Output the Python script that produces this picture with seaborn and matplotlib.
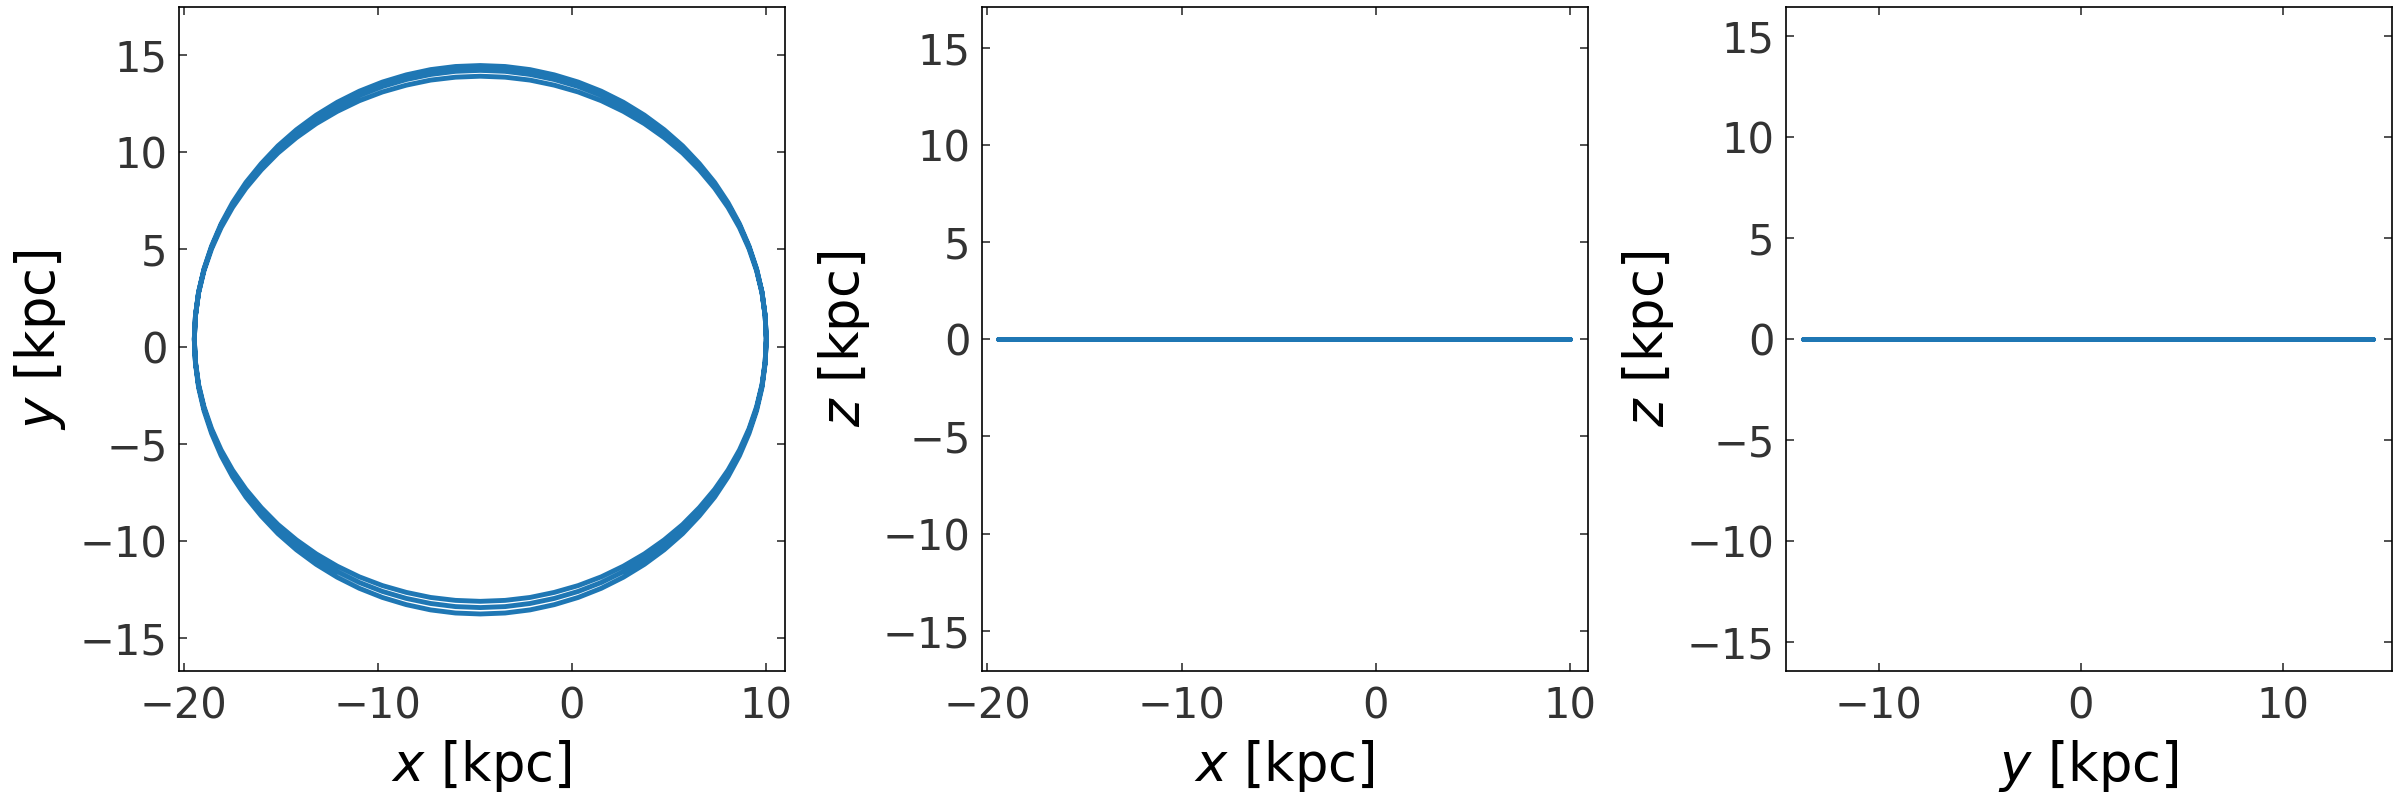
import matplotlib
matplotlib.use("Agg")
import pandas as pd
import seaborn as sns
import matplotlib.pyplot as plt

# orbit, points every 5 degrees round each of the 3 loops
x_loop = [10.01, 9.95, 9.79, 9.51, 9.12, 8.63, 8.04, 7.35, 6.56, 5.70,
          4.75, 3.73, 2.65, 1.51, 0.32, -0.91, -2.16, -3.44, -4.72,
          -6.00, -7.28, -8.53, -9.76, -10.95, -12.09, -13.17, -14.19, -15.14,
          -16.00, -16.79, -17.48, -18.07, -18.56, -18.95, -19.23, -19.39, -19.45,
          -19.39, -19.23, -18.95, -18.56, -18.07, -17.48, -16.79, -16.00, -15.14,
          -14.19, -13.17, -12.09, -10.95, -9.76, -8.53, -7.28, -6.00, -4.72,
          -3.44, -2.16, -0.91, 0.32, 1.51, 2.65, 3.73, 4.75, 5.70,
          6.56, 7.35, 8.04, 8.63, 9.12, 9.51, 9.79, 9.95]
y_loop1 = [0.35, 1.58, 2.80, 4.00, 5.17, 6.31, 7.40, 8.44, 9.41, 10.32,
           11.15, 11.90, 12.56, 13.13, 13.60, 13.97, 14.24, 14.40, 14.45,
           14.40, 14.24, 13.97, 13.60, 13.13, 12.56, 11.90, 11.15, 10.32,
           9.41, 8.44, 7.40, 6.31, 5.17, 4.00, 2.80, 1.58, 0.35,
           -0.88, -2.10, -3.30, -4.47, -5.61, -6.70, -7.74, -8.71, -9.62,
           -10.45, -11.20, -11.86, -12.43, -12.90, -13.27, -13.54, -13.70, -13.75,
           -13.70, -13.54, -13.27, -12.90, -12.43, -11.86, -11.20, -10.45, -9.62,
           -8.71, -7.74, -6.70, -5.61, -4.47, -3.30, -2.10, -0.88]
y_loop2 = [0.39, 1.59, 2.79, 3.96, 5.11, 6.23, 7.30, 8.31, 9.27, 10.16,
           10.97, 11.70, 12.35, 12.91, 13.37, 13.73, 13.99, 14.15, 14.20,
           14.15, 13.99, 13.73, 13.37, 12.91, 12.35, 11.70, 10.97, 10.16,
           9.27, 8.31, 7.30, 6.23, 5.11, 3.96, 2.79, 1.59, 0.39,
           -0.81, -2.01, -3.18, -4.33, -5.45, -6.52, -7.53, -8.49, -9.38,
           -10.19, -10.92, -11.57, -12.13, -12.59, -12.95, -13.21, -13.37, -13.42,
           -13.37, -13.21, -12.95, -12.59, -12.13, -11.57, -10.92, -10.19, -9.38,
           -8.49, -7.53, -6.52, -5.45, -4.33, -3.18, -2.01, -0.81]
y_loop3 = [0.40, 1.58, 2.74, 3.89, 5.02, 6.11, 7.15, 8.14, 9.08, 9.95,
           10.74, 11.46, 12.09, 12.64, 13.09, 13.44, 13.70, 13.85, 13.90,
           13.85, 13.70, 13.44, 13.09, 12.64, 12.09, 11.46, 10.74, 9.95,
           9.08, 8.14, 7.15, 6.11, 5.02, 3.89, 2.74, 1.58, 0.40,
           -0.78, -1.94, -3.09, -4.22, -5.31, -6.35, -7.34, -8.28, -9.15,
           -9.94, -10.66, -11.29, -11.84, -12.29, -12.64, -12.90, -13.05, -13.10,
           -13.05, -12.90, -12.64, -12.29, -11.84, -11.29, -10.66, -9.94, -9.15,
           -8.28, -7.34, -6.35, -5.31, -4.22, -3.09, -1.94, -0.78]
z_plane = 0.0  # orbit stays in the plane

x_ticks = [-20, -10, 0, 10]
y_ticks = [-10, 0, 10]
z_ticks = [-15, -10, -5, 0, 5, 10, 15]

orbit = pd.DataFrame({
    "x": x_loop * 3 + x_loop[:1],
    "y": y_loop1 + y_loop2 + y_loop3 + y_loop3[:1],
})
orbit["z"] = z_plane

sns.set_style("ticks")
plt.rcParams["font.family"] = ["DejaVu Sans"]
plt.rcParams["axes.linewidth"] = 1.2
plt.rcParams["axes.edgecolor"] = "black"

fig = plt.figure(figsize=(24, 8), dpi=100)

# (horizontal, vertical, axes rect, xlim, ylim, xticks, yticks)
panels = [
    ("x", "y", [0.0744, 0.1608, 0.2525, 0.83], (-20.26, 10.95), (-16.70, 17.44), x_ticks, z_ticks),
    ("x", "z", [0.4090, 0.1608, 0.2525, 0.83], (-20.29, 10.90), (-17.10, 17.10), x_ticks, z_ticks),
    ("y", "z", [0.7440, 0.1608, 0.2525, 0.83], (-14.62, 15.38), (-16.44, 16.44), y_ticks, z_ticks),
]

for h, v, rect, xl, yl, xt, yt in panels:
    ax = fig.add_axes(rect)
    sns.lineplot(data=orbit, x=h, y=v, sort=False, estimator=None,
                 color="#1f77b4", linewidth=3.5, ax=ax)
    ax.set_xlim(*xl)
    ax.set_ylim(*yl)
    ax.set_xticks(xt)
    ax.set_yticks(yt)
    ax.tick_params(direction="in", top=True, right=True, length=6, width=1.1,
                   labelsize=30, labelcolor="#333333", color="#222222")
    ax.tick_params(axis="x", pad=10)
    ax.tick_params(axis="y", pad=8)
    ax.set_xlabel(f"${h}$ [kpc]", fontsize=38, color="black", labelpad=8)
    ax.set_ylabel(f"${v}$ [kpc]", fontsize=38, color="black", labelpad=8)
    for s in ax.spines.values():
        s.set_visible(True)
        s.set_color("black")

fig.savefig("out.png", dpi=100)
